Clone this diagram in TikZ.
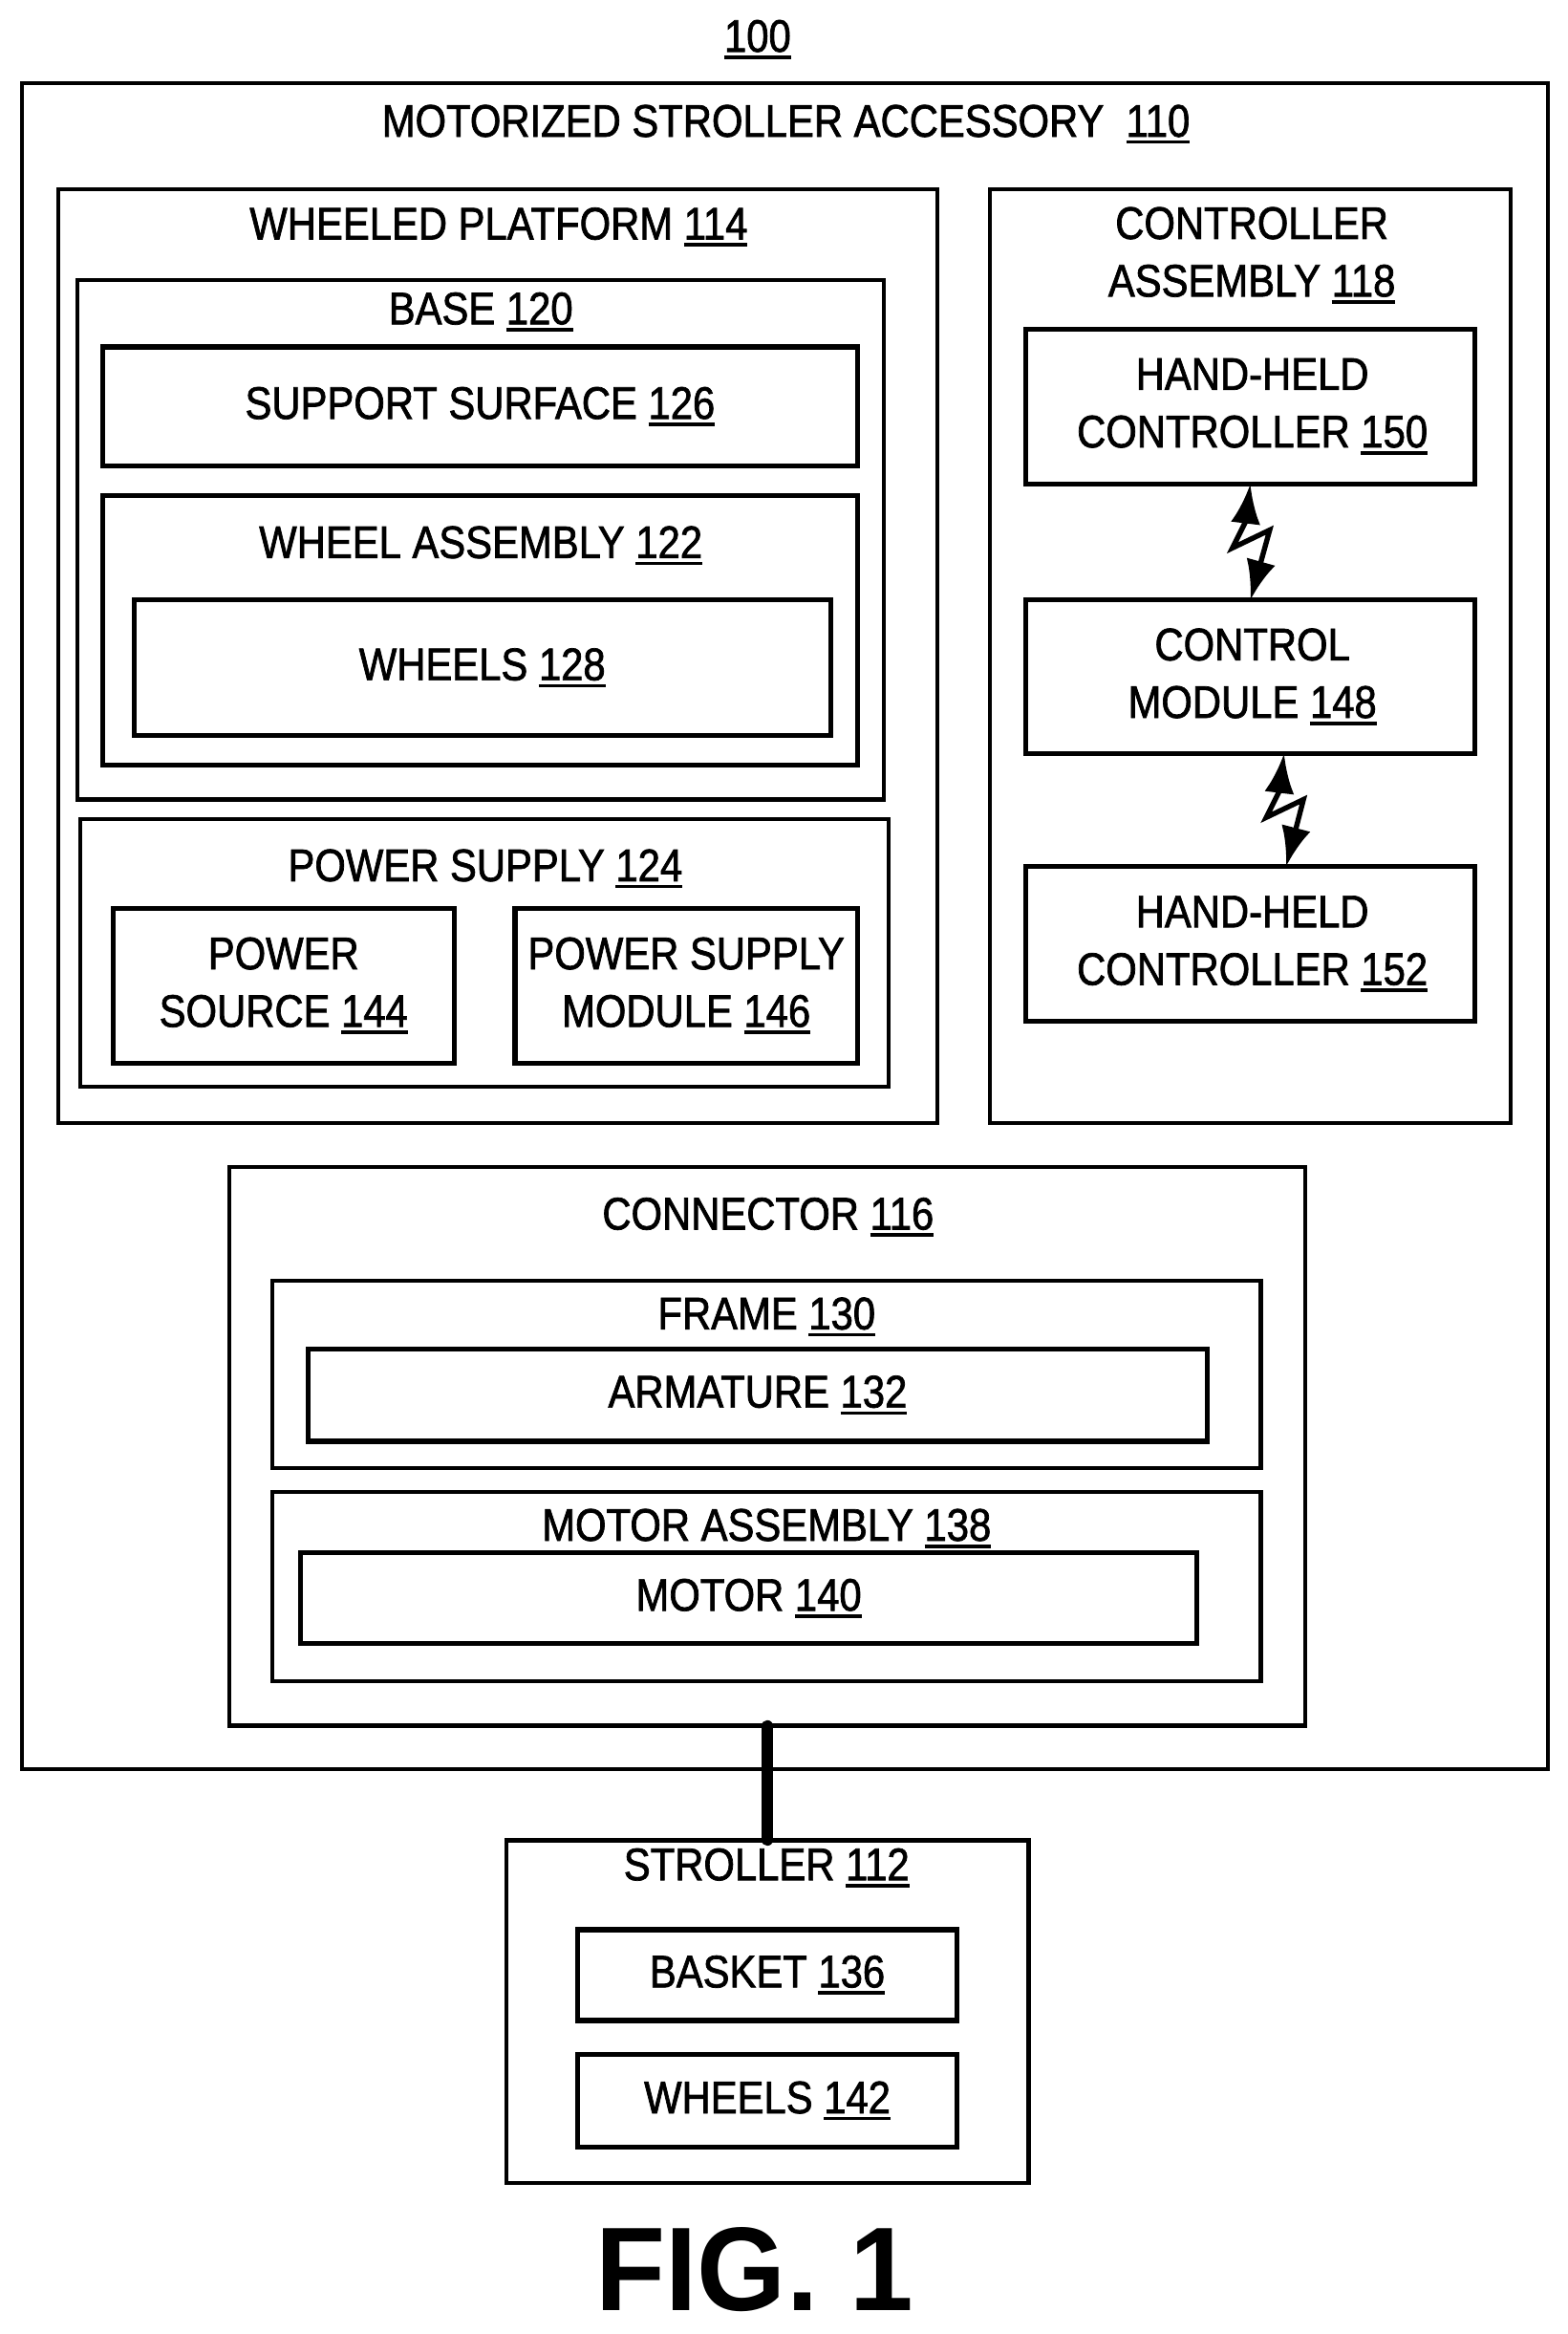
\documentclass[tikz,border=0pt]{standalone}
\usepackage{fontspec}
\setmainfont[FakeStretch=0.875,FakeBold=1.5]{Liberation Sans}
\newfontfamily\figfont[FakeStretch=0.96]{Liberation Sans Bold}
\usetikzlibrary{fit,arrows.meta}
\newcommand{\refnum}[1]{\setbox0\hbox{#1}\rlap{\rule[-3.6pt]{\wd0}{1.7pt}}\box0}

\begin{document}
\begin{tikzpicture}[x=0.75pt,y=-0.75pt]
        \tikzset{block/.style={rectangle, draw, line width=2pt, inner sep=0pt, outer sep=0pt}}
        \tikzset{inner block/.style={block, line width=2.5pt}}
        \tikzset{title/.style={align=center, inner sep=0pt, font=\fontsize{23}{29}\selectfont}}
        \tikzset{bolt/.style={{Latex[length=20pt,width=15pt]}-{Latex[length=20pt,width=15pt]}, line width=2.6pt}}

        \useasboundingbox (0,0) rectangle (1053.4,1567.6);

        \node[title] (fignum) at (509,26.5) {\refnum{100}};
        \node[block, fit={(15,56) (1040,1188)}] (accessory) {};
        \node[title] (accessorytitle) at (528,83.5) {MOTORIZED STROLLER ACCESSORY~~\refnum{110}};

        \node[block, fit={(39,127) (630,754)}] (platform) {};
        \node[title] (platformtitle) at (335,152.5) {WHEELED PLATFORM \refnum{114}};
        \node[block, fit={(52,188) (594,537)}] (base) {};
        \node[title] (basetitle) at (323,209.5) {BASE \refnum{120}};
        \node[inner block, fit={(69,233) (576,313)}] (surface) {};
        \node[title] (surfacetitle) at (surface) {SUPPORT SURFACE \refnum{126}};
        \node[inner block, fit={(69,333) (576,514)}] (wheelassembly) {};
        \node[title] (wheelassemblytitle) at (323,366.5) {WHEEL ASSEMBLY \refnum{122}};
        \node[inner block, fit={(90,403) (558,494)}] (wheels) {};
        \node[title] (wheelstitle) at (wheels) {WHEELS \refnum{128}};
        \node[block, fit={(54,550) (597,730)}] (power) {};
        \node[title] (powertitle) at (326,583.5) {POWER SUPPLY \refnum{124}};
        \node[inner block, fit={(76,610) (305,714)}] (source) {};
        \node[title] (sourcetitle) at (source) {POWER\\SOURCE \refnum{144}};
        \node[inner block, fit={(346,610) (576,714)}] (module) {};
        \node[title] (moduletitle) at (module) {POWER SUPPLY\\MODULE \refnum{146}};

        \node[block, fit={(665,127) (1015,754)}] (controller) {};
        \node[title] (controllertitle) at (841,171.5) {CONTROLLER\\ASSEMBLY \refnum{118}};
        \node[inner block, fit={(689,221) (991,325)}] (handa) {};
        \node[title, xshift=1pt] (handatitle) at (handa) {HAND-HELD\\CONTROLLER \refnum{150}};
        \node[inner block, fit={(689,403) (991,506)}] (control) {};
        \node[title, xshift=1pt] (controltitle) at (control) {CONTROL\\MODULE \refnum{148}};
        \node[inner block, fit={(689,582) (991,686)}] (handb) {};
        \node[title, xshift=1pt] (handbtitle) at (handb) {HAND-HELD\\CONTROLLER \refnum{152}};

        \node[block, fit={(154,784) (877,1159)}] (connector) {};
        \node[title] (connectortitle) at (516,817.5) {CONNECTOR \refnum{116}};
        \node[block, fit={(183,860) (847,986)}] (frame) {};
        \node[title] (frametitle) at (515,884.5) {FRAME \refnum{130}};
        \node[inner block, fit={(207,906) (811,968)}] (armature) {};
        \node[title] (armaturetitle) at (armature) {ARMATURE \refnum{132}};
        \node[block, fit={(183,1002) (847,1129)}] (motorassembly) {};
        \node[title] (motorassemblytitle) at (515,1026.5) {MOTOR ASSEMBLY \refnum{138}};
        \node[inner block, fit={(202,1043) (804,1104)}] (motor) {};
        \node[title] (motortitle) at (motor) {MOTOR \refnum{140}};

        \node[block, fit={(340,1236) (691,1466)}] (stroller) {};
        \node[title] (strollertitle) at (515,1254.5) {STROLLER \refnum{112}};
        \node[inner block, fit={(388,1296) (643,1357)}] (basket) {};
        \node[title] (baskettitle) at (basket) {BASKET \refnum{136}};
        \node[inner block, fit={(388,1380) (643,1442)}] (strollerwheels) {};
        \node[title] (strollerwheelstitle) at (strollerwheels) {WHEELS \refnum{142}};

        \node[inner sep=0pt, font=\fontsize{60}{60}\figfont] (figure) at (507,1524) {FIG. 1};

        \draw[line width=5.5pt, line cap=round] (connector.south) -- (stroller.north);
        \draw[bolt] (handa.south) -- ++(-3,25) -- ++(-9,18) -- ++(25,-12) -- (control.north);
        \draw[bolt] ([xshift=17pt]control.south) -- ++(-3,25) -- ++(-9,18) -- ++(25,-12) -- ([xshift=18pt]handb.north);
   \end{tikzpicture}
\end{document}
